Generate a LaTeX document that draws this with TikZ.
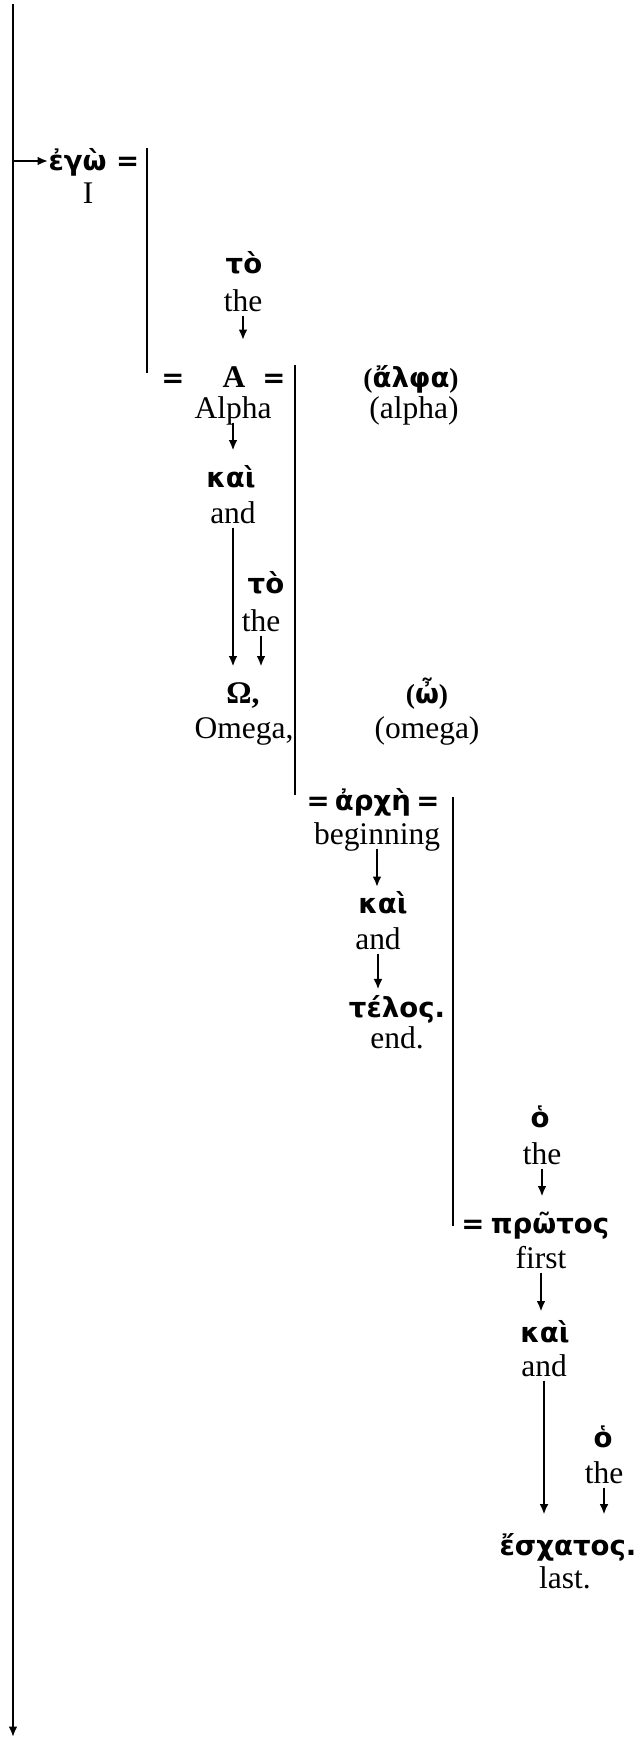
\documentclass[tikz,border=0pt]{standalone}
\usepackage{fontspec}
\setmainfont{Liberation Serif}
\newfontfamily\gkfont{DejaVu Sans}
\usetikzlibrary{arrows.meta}
\tikzset{gk/.style={font=\gkfont\bfseries\fontsize{10.5}{12}\selectfont,inner sep=0pt,text height=14pt,text depth=5.8pt},
 hd/.style={font=\bfseries\fontsize{12}{14}\selectfont,inner sep=0pt,text height=14pt,text depth=5.8pt},
 gloss/.style={font=\fontsize{12}{14}\selectfont,inner sep=0pt,text height=10pt,text depth=1.5pt},
 link/.style={-{Latex[length=4pt,width=3.4pt]},line width=.8pt},
 bar/.style={line width=.7pt},
 every picture/.style={line join=round}}

\begin{document}
\begin{tikzpicture}[x=0.381pt,y=-0.381pt]
\useasboundingbox (0,0) rectangle (642,1738);
% main line
\coordinate (top) at (13,4);
\coordinate (bot) at (13,1737);
\coordinate (m1) at (13,161);
\draw[link] (top) -- (bot);
% bars
\coordinate (b1t) at (147,148);
\coordinate (b1b) at (147,373);
\coordinate (b2t) at (295,365);
\coordinate (b2b) at (295,795);
\coordinate (b3t) at (453,797);
\coordinate (b3b) at (453,1226);
\draw[bar] (b1t) -- (b1b);
\draw[bar] (b2t) -- (b2b);
\draw[bar] (b3t) -- (b3b);
% I
\node[gk,anchor=west] (ego) at (48,160) {ἐγὼ =};
\node[gloss] (I) at (88,192) {I};
\draw[link] (m1) -- (m1 -| ego.west);
% Alpha
\node[gk] (to1) at (244,263) {τὸ};
\node[gloss] (the1) at (243,300) {the};
\node[gk] (eq1) at (173,377) {=};
\node[hd] (A) at (234,377) {A};
\node[gk] (eq2) at (274,377) {=};
\node[gloss] (Alpha) at (233,407) {Alpha};
\node[gk] (alf) at (411,377) {\textrm{(}ἄλφα\textrm{)}};
\node[gloss] (alfgl) at (414,407) {(alpha)};
\node[gk] (kai1) at (231,477) {καὶ};
\node[gloss] (and1) at (233,512) {and};
\node[gk] (to2) at (266,583) {τὸ};
\node[gloss] (the2) at (261,620) {the};
\node[hd] (Om) at (243,693) {Ω,};
\node[gloss] (Omega) at (244,727) {Omega,};
\node[gk] (om) at (427,693) {\textrm{(}ὦ\textrm{)}};
\node[gloss] (omgl) at (427,727) {(omega)};
\draw[link,shorten >=4pt] (the1.south) -- (the1.south |- A.north);
\draw[link] (Alpha.south) -- (Alpha.south |- kai1.north);
\draw[link] (and1.south) -- (and1.south |- Om.north);
\draw[link] (the2.south) -- (the2.south |- Om.north);
% beginning
\node[gk] (arche) at (373,800) {=\hspace{2pt}ἀρχὴ\hspace{2pt}=};
\node[gloss] (beg) at (377,833) {beginning};
\node[gk] (kai2) at (383,903) {καὶ};
\node[gloss] (and2) at (378,938) {and};
\node[gk] (telos) at (397,1007) {τέλος.};
\node[gloss] (endgl) at (397,1037) {end.};
\draw[link,shorten >=-4pt] (beg.south) -- (beg.south |- kai2.north);
\draw[link,shorten >=-3.4pt] (and2.south) -- (and2.south |- telos.north);
% first
\node[gk] (ho1) at (540,1117) {ὁ};
\node[gloss] (the3) at (542,1153) {the};
\node[gk] (eq3) at (473,1223) {=};
\node[gk] (protos) at (550,1223) {πρῶτος};
\node[gloss] (first) at (541,1257) {first};
\node[gk] (kai3) at (545,1332) {καὶ};
\node[gloss] (and3) at (544,1365) {and};
\node[gk] (ho2) at (603,1437) {ὁ};
\node[gloss] (the4) at (604,1472) {the};
\node[gk] (esch) at (568,1545) {ἔσχατος.};
\node[gloss] (last) at (565,1577) {last.};
\draw[link] (the3.south) -- (the3.south |- protos.north);
\draw[link,shorten >=-2.3pt] (first.south) -- (first.south |- kai3.north);
\draw[link,shorten >=1.5pt] (and3.south) -- (and3.south |- esch.north);
\draw[link,shorten >=1.5pt] (the4.south) -- (the4.south |- esch.north);
\end{tikzpicture}
\end{document}
